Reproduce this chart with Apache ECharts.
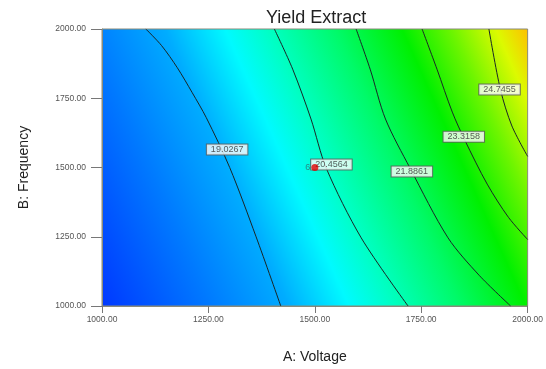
<!DOCTYPE html>
<html>
<head>
<meta charset="utf-8">
<script src="https://cdn.jsdelivr.net/npm/echarts@6/dist/echarts.min.js"></script>
<style>
html,body{margin:0;padding:0;background:#fff;}
#chart{width:546px;height:369px;}
</style>
</head>
<body>
<div id="chart"></div>
<script>
// contour levels and the points of each line (A: Voltage, B: Frequency)
var levels = ['19.0267', '20.4564', '21.8861', '23.3158', '24.7455'];
var c1 = [[1103,2000],[1140,1940],[1177,1860],[1212,1770],[1245,1680],[1300,1500],[1362,1250],[1420,1000]];
var c2 = [[1405,2000],[1448,1855],[1491,1675],[1527,1497],[1609,1246],[1719,1000]];
var c3 = [[1597,2000],[1630,1855],[1666,1675],[1724,1497],[1813,1246],[1886,1111],[1960,1000]];
var c4 = [[1752,2000],[1787,1855],[1823,1700],[1852,1600],[1905,1440],[1955,1320],[2000,1240]];
var c5 = [[1909,2000],[1936,1782],[1963,1650],[2000,1540]];
var contours = [c1, c2, c3, c4, c5];
// where each level's label sits
var labelPts = [[1294,1565],[1539,1511],[1728,1486],[1850,1611],[1934,1782]];
// design point (center point, 6 runs)
var designPt = [[1500,1500]];
var designCount = '6';
var ticks = [1000, 1250, 1500, 1750, 2000];

var mychart = echarts.init(document.getElementById('chart'));
var font = 'Liberation Sans, Arial, sans-serif';

var series = [];
for (var i = 0; i < contours.length; i++) {
	series.push({
		type: 'line',
		data: contours[i],
		smooth: 0.3,
		symbol: 'none',
		silent: true,
		lineStyle: { color: '#1a2626', width: 1 },
		z: 2
	});
}
var lab = [];
for (var j = 0; j < labelPts.length; j++) {
	lab.push({ value: labelPts[j], name: levels[j] });
}
series.push({
	type: 'scatter',
	data: lab,
	symbolSize: 0,
	z: 3,
	label: {
		show: true,
		position: 'inside',
		formatter: '{b}',
		fontFamily: font,
		fontSize: 9,
		lineHeight: 9,
		color: '#333',
		backgroundColor: '#fff',
		borderColor: '#5a5a5a',
		borderWidth: 1,
		padding: [1, 4, 0, 4]
	}
});
series.push({
	type: 'scatter',
	data: designPt,
	symbolSize: 7,
	itemStyle: { color: '#e00000' },
	z: 5,
	label: {
		show: true,
		position: 'left',
		distance: 1,
		formatter: designCount,
		fontFamily: font,
		fontSize: 9,
		color: '#2b6f70'
	}
});

var option = {
	animation: false,
	title: {
		text: 'Yield Extract',
		left: 261,
		top: 4,
		textStyle: { fontFamily: font, fontSize: 18, fontWeight: 'normal', color: '#222' }
	},
	grid: {
		left: 102, right: 17, top: 29, bottom: 60,
		show: true,
		borderColor: '#8a8a7a',
		borderWidth: 1,
		// colour wash of the response surface, tilted like the contours
		backgroundColor: {
			type: 'linear', x: 102, y: 309, x2: 562, y2: 103, global: true,
			colorStops: [
				{ offset: 0, color: 'rgb(0,55,255)' },
				{ offset: 0.2, color: 'rgb(0,122,255)' },
				{ offset: 0.34, color: 'rgb(0,172,255)' },
				{ offset: 0.45, color: 'rgb(0,250,255)' },
				{ offset: 0.53, color: 'rgb(0,255,195)' },
				{ offset: 0.65, color: 'rgb(0,250,105)' },
				{ offset: 0.77, color: 'rgb(0,240,0)' },
				{ offset: 0.86, color: 'rgb(110,245,0)' },
				{ offset: 0.94, color: 'rgb(220,250,0)' },
				{ offset: 1, color: 'rgb(255,190,0)' }
			]
		}
	},
	xAxis: {
		type: 'value',
		min: ticks[0], max: ticks[ticks.length - 1], interval: 250,
		name: 'A: Voltage',
		nameLocation: 'middle',
		nameGap: 44,
		nameTextStyle: { fontFamily: font, fontSize: 14, color: '#222' },
		axisLine: { show: true, lineStyle: { color: '#8a8a7a' } },
		axisTick: { show: true, length: 7, lineStyle: { color: '#777' } },
		axisLabel: {
			margin: 9, fontFamily: font, fontSize: 8.5, color: '#555',
			formatter: function (v) { return v.toFixed(2); }
		},
		splitLine: { show: false }
	},
	yAxis: {
		type: 'value',
		min: ticks[0], max: ticks[ticks.length - 1], interval: 250,
		name: 'B: Frequency',
		nameLocation: 'middle',
		nameGap: 71,
		nameTextStyle: { fontFamily: font, fontSize: 14, color: '#222' },
		axisLine: { show: true, lineStyle: { color: '#8a8a7a' } },
		axisTick: { show: true, length: 11, lineStyle: { color: '#777' } },
		axisLabel: {
			margin: 16, fontFamily: font, fontSize: 8.5, color: '#555',
			formatter: function (v) { return v.toFixed(2); }
		},
		splitLine: { show: false }
	},
	series: series
};
mychart.setOption(option);
</script>
</body>
</html>
